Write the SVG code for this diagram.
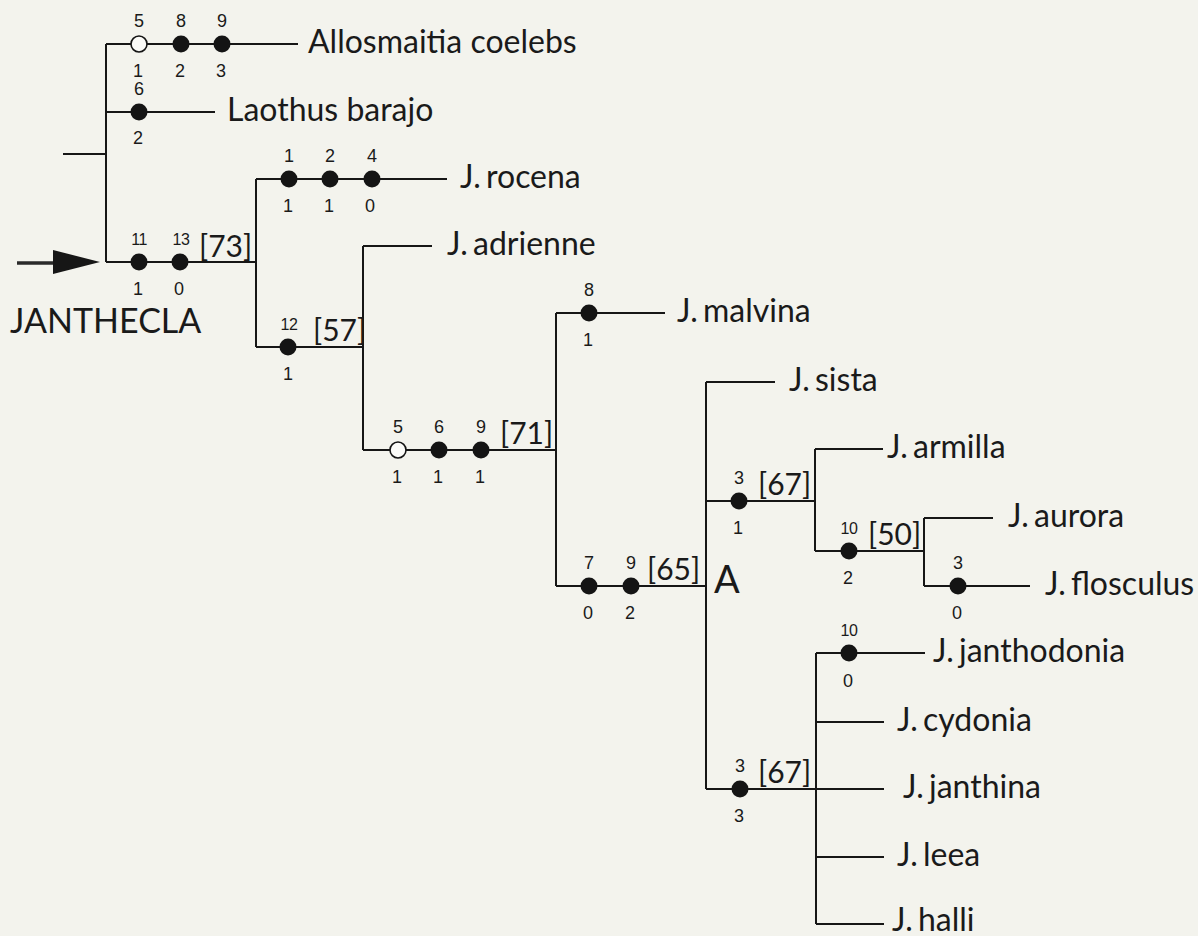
<svg xmlns="http://www.w3.org/2000/svg" width="1198" height="936" viewBox="0 0 1198 936">
<style>
.ln{stroke:#161616;stroke-width:2;fill:none}
.dot{fill:#141414}
.odot{fill:#fbfbf8;stroke:#141414;stroke-width:1.6}
.num{font-family:"Liberation Sans",Arial,sans-serif;font-size:18px;fill:#1a1a1a;text-anchor:middle}
.n2{font-size:16px;letter-spacing:-0.5px}
.tax{font-family:Lato,"Noto Sans",sans-serif;font-size:32px;fill:#1a1a1a}
.j{word-spacing:-3px}
.br{font-family:Lato,"Noto Sans",sans-serif;font-size:30px;fill:#1a1a1a}
</style>
<rect width="1198" height="936" fill="#f3f3ed"/>
<g id="connectors">
<path class="ln" d="M63 154H106M106 44V262M106 44H298M106 112H215M106 262H256"/>
<path class="ln" d="M256 179V347M256 179H447M256 347H363"/>
<path class="ln" d="M363 246V450M363 246H432M363 450H556"/>
<path class="ln" d="M556 313V586M556 313H665M556 586H706"/>
<path class="ln" d="M706 382V789M706 382H775M706 501H815M706 789H816"/>
<path class="ln" d="M815 449V551M815 449H883M815 551H924"/>
<path class="ln" d="M924 518V586M924 518H993M924 586H1030"/>
<path class="ln" d="M816 653V924M816 653H925M816 722H884M816 789H884M816 857H884M816 924H884"/>
<path d="M17 263H56" stroke="#2a2a2a" stroke-width="3.5"/>
<polygon points="53,250 100,262 53,274" fill="#161616"/>
</g>
<g id="root">
<text class="tax" x="10" y="333" style="font-size:34px">JANTHECLA</text>
</g>
<g id="allosmaitia">
<circle class="odot" cx="139" cy="44" r="8"/><circle class="dot" cx="181" cy="44" r="8.5"/><circle class="dot" cx="222" cy="44" r="8.5"/>
<text class="num" x="139" y="27">5</text><text class="num" x="181" y="27">8</text><text class="num" x="222" y="27">9</text>
<text class="num" x="138" y="77">1</text><text class="num" x="180" y="77">2</text><text class="num" x="221" y="77">3</text>
<text class="tax" x="308" y="53">Allosmaitia coelebs</text>
</g>
<g id="laothus">
<circle class="dot" cx="139" cy="112" r="8.5"/>
<text class="num" x="139" y="95">6</text><text class="num" x="138" y="144">2</text>
<text class="tax" x="227" y="121">Laothus barajo</text>
</g>
<g id="janthecla-node">
<circle class="dot" cx="139" cy="262" r="8.5"/><circle class="dot" cx="180" cy="262" r="8.5"/>
<text class="num n2" x="139" y="245">11</text><text class="num n2" x="181" y="245">13</text>
<text class="num" x="138" y="295">1</text><text class="num" x="179" y="295">0</text>
<text class="br" x="199" y="257">[73]</text>
</g>
<g id="rocena">
<circle class="dot" cx="289" cy="179" r="8.5"/><circle class="dot" cx="330" cy="179" r="8.5"/><circle class="dot" cx="372" cy="179" r="8.5"/>
<text class="num" x="289" y="162">1</text><text class="num" x="330" y="162">2</text><text class="num" x="372" y="162">4</text>
<text class="num" x="288" y="212">1</text><text class="num" x="329" y="212">1</text><text class="num" x="370" y="212">0</text>
<text class="tax j" x="460" y="188">J. rocena</text>
</g>
<g id="node-57">
<circle class="dot" cx="288" cy="347" r="8.5"/>
<text class="num n2" x="289" y="330">12</text><text class="num" x="288" y="380">1</text>
<text class="br" x="313" y="341">[57]</text>
</g>
<g id="adrienne">
<text class="tax j" x="447" y="255">J. adrienne</text>
</g>
<g id="node-71">
<circle class="odot" cx="398" cy="450" r="8"/><circle class="dot" cx="439" cy="450" r="8.5"/><circle class="dot" cx="481" cy="450" r="8.5"/>
<text class="num" x="398" y="433">5</text><text class="num" x="439" y="433">6</text><text class="num" x="481" y="433">9</text>
<text class="num" x="397" y="483">1</text><text class="num" x="438" y="483">1</text><text class="num" x="480" y="483">1</text>
<text class="br" x="500" y="444">[71]</text>
</g>
<g id="malvina">
<circle class="dot" cx="589" cy="313" r="8.5"/>
<text class="num" x="589" y="296">8</text><text class="num" x="588" y="346">1</text>
<text class="tax j" x="677" y="322">J. malvina</text>
</g>
<g id="node-A">
<circle class="dot" cx="589" cy="586" r="8.5"/><circle class="dot" cx="631" cy="586" r="8.5"/>
<text class="num" x="589" y="569">7</text><text class="num" x="631" y="569">9</text>
<text class="num" x="588" y="619">0</text><text class="num" x="630" y="619">2</text>
<text class="br" x="647" y="580">[65]</text>
<text class="tax" x="714" y="593" style="font-size:38px">A</text>
</g>
<g id="sista">
<text class="tax j" x="789" y="391">J. sista</text>
</g>
<g id="node-67a">
<circle class="dot" cx="739" cy="501" r="8.5"/>
<text class="num" x="739" y="484">3</text><text class="num" x="738" y="534">1</text>
<text class="br" x="758" y="495">[67]</text>
</g>
<g id="armilla">
<text class="tax j" x="887" y="458">J. armilla</text>
</g>
<g id="node-50">
<circle class="dot" cx="849" cy="551" r="8.5"/>
<text class="num n2" x="849" y="534">10</text><text class="num" x="848" y="584">2</text>
<text class="br" x="868" y="545">[50]</text>
</g>
<g id="aurora">
<text class="tax j" x="1008" y="527">J. aurora</text>
</g>
<g id="flosculus">
<circle class="dot" cx="958" cy="586" r="8.5"/>
<text class="num" x="958" y="569">3</text><text class="num" x="957" y="619">0</text>
<text class="tax j" x="1045" y="595">J. flosculus</text>
</g>
<g id="node-67b">
<circle class="dot" cx="740" cy="789" r="8.5"/>
<text class="num" x="740" y="772">3</text><text class="num" x="739" y="822">3</text>
<text class="br" x="758" y="783">[67]</text>
</g>
<g id="janthodonia">
<circle class="dot" cx="849" cy="653" r="8.5"/>
<text class="num n2" x="849" y="636">10</text><text class="num" x="848" y="687">0</text>
<text class="tax j" x="933" y="662">J. janthodonia</text>
</g>
<g id="cydonia"><text class="tax j" x="897" y="731">J. cydonia</text></g>
<g id="janthina"><text class="tax j" x="903" y="798">J. janthina</text></g>
<g id="leea"><text class="tax j" x="897" y="866">J. leea</text></g>
<g id="halli"><text class="tax j" x="892" y="931">J. halli</text></g>
</svg>
